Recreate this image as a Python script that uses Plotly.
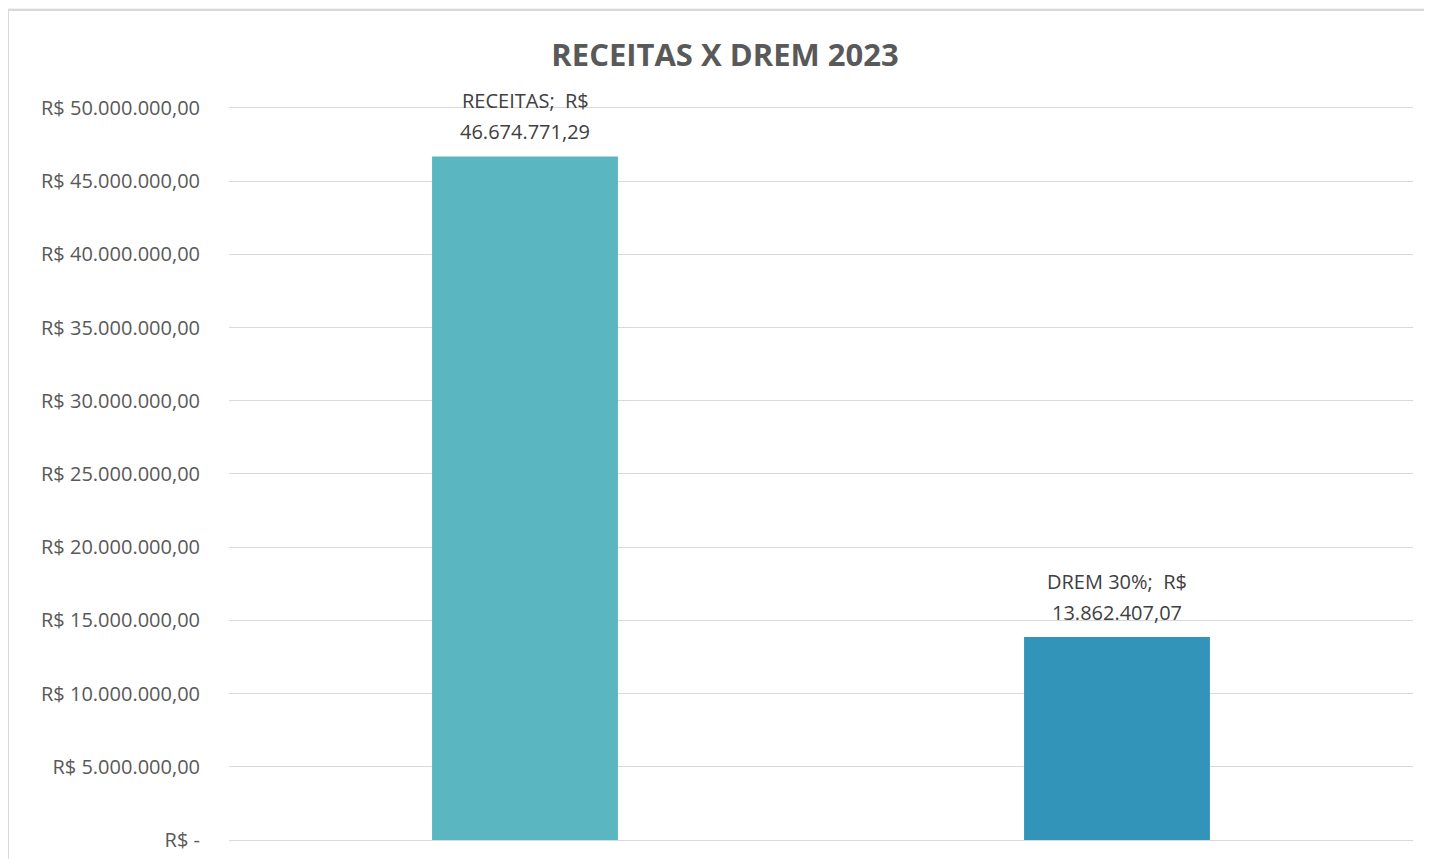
import plotly.graph_objects as go

categories = ["RECEITAS", "DREM 30%"]
values = [46674771.29, 13862407.07]
value_labels = ["46.674.771,29", "13.862.407,07"]
colors = ["#5AB6C1", "#3394BA"]
tick_vals = [0, 5e6, 10e6, 15e6, 20e6, 25e6, 30e6, 35e6, 40e6, 45e6, 50e6]
tick_text = ["R$ -", "R$ 5.000.000,00", "R$ 10.000.000,00", "R$ 15.000.000,00",
             "R$ 20.000.000,00", "R$ 25.000.000,00", "R$ 30.000.000,00",
             "R$ 35.000.000,00", "R$ 40.000.000,00", "R$ 45.000.000,00",
             "R$ 50.000.000,00"]

FONT = "Open Sans"
W, H = 1432, 859
OFF = 8  # page body offset
Y_TOP = 50.2e6
# screen targets: plot x 229..1413, y(0)=840, y(50M)=108
L = 229 - OFF
R = W - (1413 - OFF)
B = H - (840 - OFF)
ph = (840 - 108) * Y_TOP / 50e6
T = H - B - ph
pw = W - L - R

fig = go.Figure()
fig.add_trace(go.Bar(x=categories, y=values, marker=dict(color=colors, line=dict(width=0)),
                     width=0.314, hoverinfo="skip"))

label_font = dict(family=FONT, size=20, color="#404040")
for c, v, lab in zip(categories, values, value_labels):
    fig.add_annotation(x=c, y=v, xref="x", yref="y", text=f"{c};  R$",
                       showarrow=False, yanchor="middle", yshift=56, font=label_font)
    fig.add_annotation(x=c, y=v, xref="x", yref="y", text=lab,
                       showarrow=False, yanchor="middle", yshift=25, font=label_font)


def px2x(px):
    return (px - L) / pw


def py2y(py):
    return (H - B - py) / ph


# white card with light border
fig.add_shape(type="rect", xref="paper", yref="paper", x0=px2x(0), x1=px2x(W + 10),
              y0=py2y(H + 10), y1=py2y(2), fillcolor="white",
              line=dict(color="#d9d9d9", width=2), layer="below")

fig.update_layout(
    width=W, height=H,
    margin=dict(l=L, r=R, t=T, b=B),
    paper_bgcolor="#f2f2f2", plot_bgcolor="rgba(0,0,0,0)",
    showlegend=False,
    title=dict(text="<b>RECEITAS X DREM 2023</b>", x=(725 - OFF) / W, xanchor="center",
               y=1 - (55 - OFF) / H, yanchor="middle", yref="container", xref="container",
               font=dict(family=FONT, size=31, color="#595959")),
    xaxis=dict(range=[-0.5, 1.5], showticklabels=False, showgrid=False, zeroline=False,
               showline=False, ticks=""),
    yaxis=dict(range=[0, Y_TOP], tickvals=tick_vals, ticktext=tick_text,
               showgrid=True, gridcolor="#d9d9d9", gridwidth=1, zeroline=True,
               zerolinecolor="#d9d9d9", zerolinewidth=1, showline=False,
               tickfont=dict(family=FONT, size=20, color="#595959"),
               ticklabelstandoff=28),
)

fig.write_html("out.html")
